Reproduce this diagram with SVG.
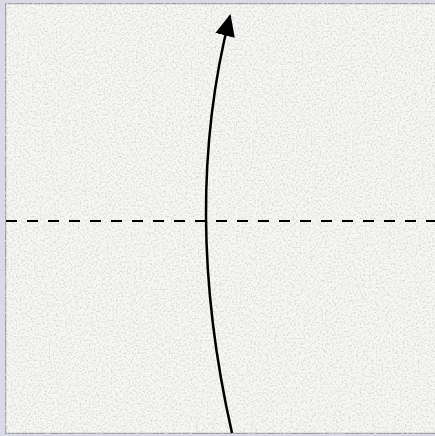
<svg xmlns="http://www.w3.org/2000/svg" width="435" height="436" viewBox="0 0 435 436">
<defs>
<filter id="speckle" x="0" y="0" width="100%" height="100%">
<feTurbulence type="fractalNoise" baseFrequency="0.55" numOctaves="2" seed="5" result="n"/>
<feColorMatrix in="n" type="matrix" values="0 0 0 0 0.70  0 0 0 0 0.70  0 0 0 0 0.68  0 0 0 -3.2 1.75" result="dots"/>
<feComposite in="dots" in2="SourceGraphic" operator="in" result="d2"/>
<feMerge><feMergeNode in="SourceGraphic"/><feMergeNode in="d2"/></feMerge>
</filter>
<marker id="head" markerWidth="24" markerHeight="24" refX="20" refY="10" orient="auto" markerUnits="userSpaceOnUse" viewBox="0 0 24 20">
<path d="M0,0 L22,10 L0,20 Z" fill="#000"/>
</marker>
<style>
.paper{fill:#f7f7f5;stroke:#9a9a9e;stroke-width:1.5}
.fold{fill:none;stroke:#000;stroke-width:2;stroke-dasharray:11 10}
.arrow{fill:none;stroke:#000;stroke-width:2.5}
</style>
</defs>
<rect width="435" height="436" fill="#d9d9e8"/>
<g id="paper">
<rect class="paper" x="5.5" y="3.5" width="432" height="430" filter="url(#speckle)"/>
</g>
<g id="connectors">
<line class="fold" x1="6" y1="221" x2="435" y2="221"/>
<path class="arrow" d="M232,433 Q181,208 230,16" marker-end="url(#head)"/>
</g>
</svg>
